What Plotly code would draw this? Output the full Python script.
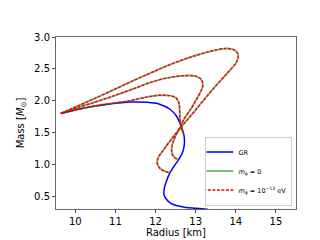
import plotly.graph_objects as go

# GR curve
gr_r = [9.64, 10.0, 10.5, 11.0, 11.4, 11.8, 12.1, 12.35, 12.52, 12.64, 12.71, 12.72, 12.68,
        12.58, 12.46, 12.36, 12.28, 12.22, 12.21, 12.26, 12.38, 12.55, 12.75, 13.0, 13.3]
gr_m = [1.80, 1.855, 1.915, 1.96, 1.98, 1.975, 1.945, 1.87, 1.76, 1.60, 1.45, 1.33, 1.20,
        1.08, 0.97, 0.87, 0.75, 0.63, 0.53, 0.46, 0.39, 0.35, 0.325, 0.31, 0.295]

# scalar-tensor branches (three couplings)
c1_r = [9.64, 10.0, 10.5, 11.0, 11.4, 11.8, 12.1, 12.35, 12.5, 12.58, 12.60, 12.61, 12.64, 12.70]
c1_m = [1.80, 1.855, 1.92, 1.965, 2.005, 2.06, 2.085, 2.08, 2.05, 1.97, 1.85, 1.70, 1.58, 1.48]

c2_r = [9.64, 10.0, 10.5, 11.0, 11.42, 11.94, 12.4, 12.8, 13.0, 13.13, 13.18, 13.14, 13.0,
        12.9, 12.70, 12.62, 12.5, 12.42, 12.40, 12.44, 12.55]
c2_m = [1.80, 1.88, 1.98, 2.085, 2.18, 2.30, 2.37, 2.395, 2.385, 2.34, 2.25, 2.16, 2.0,
        1.89, 1.70, 1.59, 1.45, 1.32, 1.22, 1.13, 1.08]

c3_r = [9.64, 10.0, 10.5, 11.0, 11.5, 12.0, 12.5, 13.0, 13.4, 13.75, 13.95, 14.04, 14.06,
        14.0, 13.8, 13.54, 13.2, 12.9, 12.62, 12.4, 12.2, 12.08, 12.04, 12.08, 12.2, 12.36]
c3_m = [1.80, 1.90, 2.04, 2.185, 2.33, 2.47, 2.60, 2.71, 2.78, 2.82, 2.80, 2.75, 2.68,
        2.59, 2.44, 2.26, 2.01, 1.78, 1.575, 1.40, 1.23, 1.12, 1.04, 0.96, 0.90, 0.87]

branches = [(c1_r, c1_m), (c2_r, c2_m), (c3_r, c3_m)]

fig = go.Figure()
fig.add_trace(go.Scatter(x=gr_r, y=gr_m, mode="lines", name="GR",
                         line=dict(color="#0000ff", width=1.5, shape="spline", smoothing=1.0)))
for i, (r, m) in enumerate(branches):
    fig.add_trace(go.Scatter(x=r, y=m, mode="lines", name="<i>m</i><sub>φ</sub> = 0",
                             showlegend=(i == 0), legendgroup="g",
                             line=dict(color="rgba(0,128,0,0.5)", width=1.9,
                                       shape="spline", smoothing=1.0)))
for i, (r, m) in enumerate(branches):
    fig.add_trace(go.Scatter(x=r, y=m, mode="lines",
                             name="<i>m</i><sub>φ</sub> = 10<sup>−13</sup> eV",
                             showlegend=(i == 0), legendgroup="r",
                             line=dict(color="#ff0000", width=1.4, dash="3px,1.5px",
                                       shape="spline", smoothing=1.0)))

axis_common = dict(showgrid=False, zeroline=False, showline=True, mirror=True,
                   linecolor="#666666", linewidth=1, ticks="outside", ticklen=3,
                   tickcolor="#444444", tickfont=dict(size=10, color="black",
                                                      family="DejaVu Sans"))
fig.update_xaxes(range=[9.52, 15.5], tickvals=[10, 11, 12, 13, 14, 15],
                 title=dict(text="Radius [km]", font=dict(size=10, family="DejaVu Sans"),
                            standoff=2), **axis_common)
fig.update_yaxes(range=[0.3, 3.0], tickvals=[0.5, 1.0, 1.5, 2.0, 2.5, 3.0],
                 ticktext=["0.5", "1.0", "1.5", "2.0", "2.5", "3.0"],
                 title=dict(text="Mass [<i>M</i><sub>⊙</sub>]",
                            font=dict(size=10, family="DejaVu Sans"), standoff=7),
                 **axis_common)

fig.update_layout(
    width=320, height=240,
    margin=dict(l=40, r=32, t=29, b=27),
    plot_bgcolor="white", paper_bgcolor="white",
    font=dict(family="DejaVu Sans", color="black"),
    legend=dict(x=0.985, y=0.02, xanchor="right", yanchor="bottom",
                bgcolor="rgba(255,255,255,0.9)", bordercolor="#cccccc", borderwidth=1,
                font=dict(size=6.5, family="DejaVu Sans"), itemwidth=30,
                indentation=-8, tracegroupgap=0, traceorder="normal"),
)

fig.write_html("out.html")
